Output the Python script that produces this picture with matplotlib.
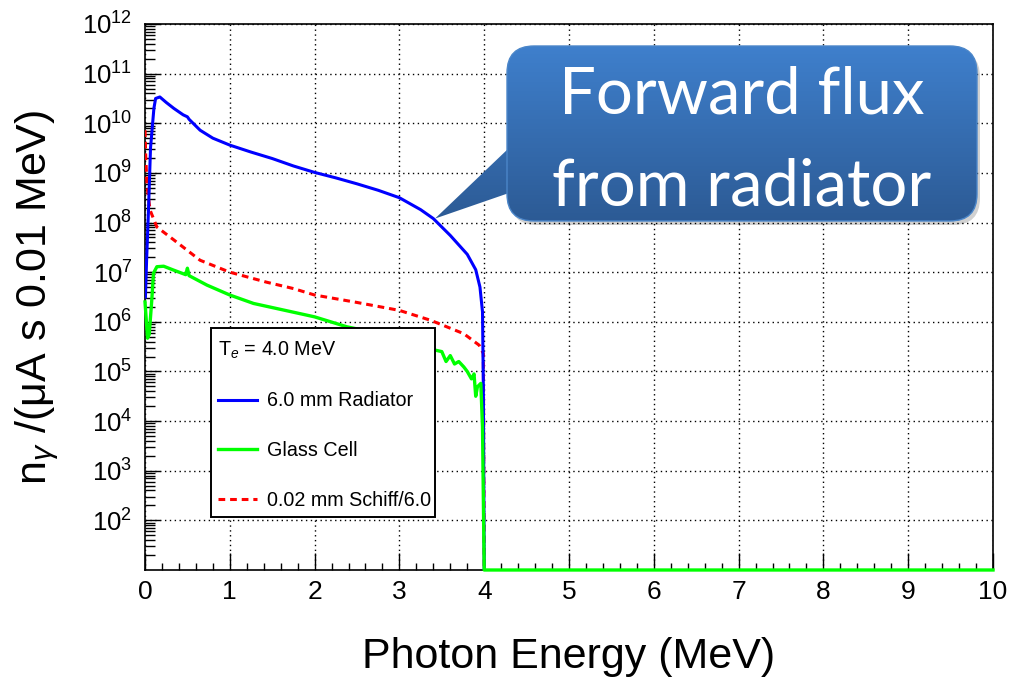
import numpy as np
import matplotlib
matplotlib.use("Agg")
import matplotlib.pyplot as plt
from matplotlib.patches import FancyBboxPatch, Polygon, Rectangle
from matplotlib.lines import Line2D
from matplotlib.ticker import LogLocator, FixedLocator, MultipleLocator, NullFormatter

plt.rcParams['font.family'] = ['Liberation Sans', 'DejaVu Sans']
plt.rcParams['mathtext.fontset'] = 'custom'
plt.rcParams['mathtext.rm'] = 'Liberation Sans'
plt.rcParams['mathtext.it'] = 'Liberation Sans:italic'

# photon spectra, values as log10(n_gamma)
blue_x = [0.005, 0.02, 0.04, 0.065, 0.085, 0.105, 0.125, 0.175, 0.25, 0.34, 0.45, 0.5, 0.52,
          0.65, 0.8, 1.0, 1.25, 1.5, 1.75, 2.0, 2.25, 2.5, 2.75, 3.0, 3.25, 3.4, 3.6, 3.8,
          3.9, 3.95, 3.98, 3.99, 4.0]
blue_log = [6.5, 7.3, 8.2, 9.5, 9.9, 10.3, 10.5, 10.53, 10.42, 10.3, 10.17, 10.13, 10.08,
            9.86, 9.7, 9.56, 9.42, 9.29, 9.14, 9.01, 8.9, 8.78, 8.65, 8.5, 8.26, 8.08, 7.74, 7.36,
            7.05, 6.7, 6.2, 4.7, 1.0]

red_x = [0.0, 0.01, 0.025, 0.06, 0.14, 0.34, 0.65, 1.0, 1.43, 1.75, 2.0, 2.5, 3.0, 3.37,
         3.76, 3.94, 3.99, 4.0]
red_log = [9.86, 9.26, 8.72, 8.25, 7.91, 7.65, 7.24, 7.0, 6.8, 6.67, 6.54, 6.39, 6.23, 6.03,
           5.76, 5.53, 5.36, 1.0]

green_x = [0.0, 0.03, 0.05, 0.08, 0.10, 0.14, 0.22, 0.34, 0.48, 0.50, 0.52, 0.73, 1.0, 1.28,
           1.6, 2.0, 2.38, 2.8, 3.2, 3.42, 3.5, 3.55, 3.6, 3.65, 3.7, 3.76, 3.8, 3.85, 3.88,
           3.9, 3.92, 3.96, 3.98, 4.0, 10.0]
green_log = [6.40, 5.67, 5.75, 6.44, 6.98, 7.11, 7.12, 7.04, 6.95, 7.08, 6.93, 6.74, 6.54, 6.37,
             6.25, 6.10, 5.90, 5.75, 5.58, 5.43, 5.40, 5.2, 5.32, 5.15, 5.20, 5.09, 5.0, 4.85, 4.95,
             4.5, 4.69, 4.76, 3.88, 1.0, 1.0]

labels = ["6.0 mm Radiator", "Glass Cell", "0.02 mm Schiff/6.0"]
legend_title = r"T$_{e}$ = 4.0 MeV"
callout_lines = ["Forward flux", "from radiator"]
callout_point = (3.42, 10 ** 8.08)

fig = plt.figure(figsize=(10.09, 6.79), dpi=100)
ax = fig.add_axes([145 / 1009, 109 / 679, 848 / 1009, 546 / 679])

ax.plot(red_x, 10 ** np.array(red_log), color='#ff0000', lw=2.2, ls=(0, (2.2, 1.6)), zorder=3)
ax.plot(blue_x, 10 ** np.array(blue_log), color='#0000ff', lw=2.2, zorder=3)
ax.plot(green_x, 10 ** np.array(green_log), color='#00ff00', lw=2.4, zorder=4, clip_on=False)

ax.set_yscale('log')
ax.set_xlim(0, 10)
ax.set_ylim(10, 1e12)

ax.xaxis.set_major_locator(MultipleLocator(1))
ax.xaxis.set_minor_locator(MultipleLocator(0.2))
ax.yaxis.set_major_locator(FixedLocator([10.0 ** k for k in range(2, 13)]))
ax.yaxis.set_minor_locator(LogLocator(base=10, subs=np.arange(2, 10), numticks=20))
ax.yaxis.set_minor_formatter(NullFormatter())

ax.tick_params(axis='both', which='both', direction='in', top=False, right=False, width=1)
ax.tick_params(axis='x', which='major', length=12, labelsize=19, pad=7)
ax.tick_params(axis='x', which='minor', length=5)
ax.tick_params(axis='y', which='major', length=11, labelsize=18.5, pad=9)
ax.tick_params(axis='y', which='minor', length=7)

for s in ax.spines.values():
    s.set_linewidth(1.2)

ax.grid(True, which='major', color='black', ls=(0, (1, 2.5)), lw=1.0, zorder=1)
ax.set_axisbelow(True)

ax.set_xlabel("Photon Energy (MeV)", fontsize=31, labelpad=24)
ax.set_ylabel(r"n$_{\gamma}$ /(μA s 0.01 MeV)", fontsize=31, labelpad=15)

# legend box, ROOT style
ax.add_patch(Rectangle((0.078, 0.097), 0.264, 0.346, transform=ax.transAxes,
                       facecolor='white', edgecolor='black', lw=1.4, zorder=6))
handles = [Line2D([], [], color='#0000ff', lw=2.2),
           Line2D([], [], color='#00ff00', lw=2.4),
           Line2D([], [], color='#ff0000', lw=2.2, ls=(0, (2.2, 1.6)))]
leg = ax.legend(handles, labels, title=legend_title, loc='upper left',
                bbox_to_anchor=(0.074, 0.440), frameon=False, fontsize=14.2,
                title_fontsize=14.2, alignment='left', borderpad=0,
                labelspacing=1.55, handlelength=2.0, handletextpad=0.5)
leg.set_zorder(7)

# callout bubble (in inches)
ov = fig.add_axes([0, 0, 1, 1], zorder=10)
ov.set_xlim(0, 10.09)
ov.set_ylim(0, 6.79)
ov.axis('off')

tip = fig.dpi_scale_trans.inverted().transform(ax.transData.transform(callout_point))
bx0, bx1, by0, by1 = 5.07, 9.77, 4.58, 6.33

shadow = FancyBboxPatch((bx0 + 0.03, by0 - 0.04), bx1 - bx0, by1 - by0,
                        boxstyle="round,pad=0,rounding_size=0.27",
                        fc='#000000', ec='none', alpha=0.18)
ov.add_patch(shadow)
box = FancyBboxPatch((bx0, by0), bx1 - bx0, by1 - by0,
                     boxstyle="round,pad=0,rounding_size=0.27",
                     fc='none', ec='#4b86c9', lw=1.0)
ov.add_patch(box)
tail = Polygon([[bx0 + 0.02, 5.31], tip, [bx0 + 0.02, 4.86]], closed=True,
               fc='none', ec='none')
ov.add_patch(tail)

grad = np.linspace(0, 1, 256).reshape(-1, 1)
top_c = np.array([63, 128, 205]) / 255
bot_c = np.array([44, 90, 148]) / 255
img = top_c[None, None, :] * (1 - grad[:, :, None]) + bot_c[None, None, :] * grad[:, :, None]
for patch in (box, tail):
    im = ov.imshow(img, extent=(tip[0] - 0.05, bx1 + 0.05, by0 - 0.02, by1 + 0.02),
                   aspect='auto', origin='upper', zorder=1)
    im.set_clip_path(patch)
box.set_zorder(2)

ov.text((bx0 + bx1) / 2, (679 - 113) / 100, callout_lines[0], color='white',
        fontsize=47, family=['Lato', 'DejaVu Sans'], ha='center', va='baseline', zorder=3)
ov.text((bx0 + bx1) / 2, (679 - 205) / 100, callout_lines[1], color='white',
        fontsize=47, family=['Lato', 'DejaVu Sans'], ha='center', va='baseline', zorder=3)

fig.savefig("out.png", dpi=100)
